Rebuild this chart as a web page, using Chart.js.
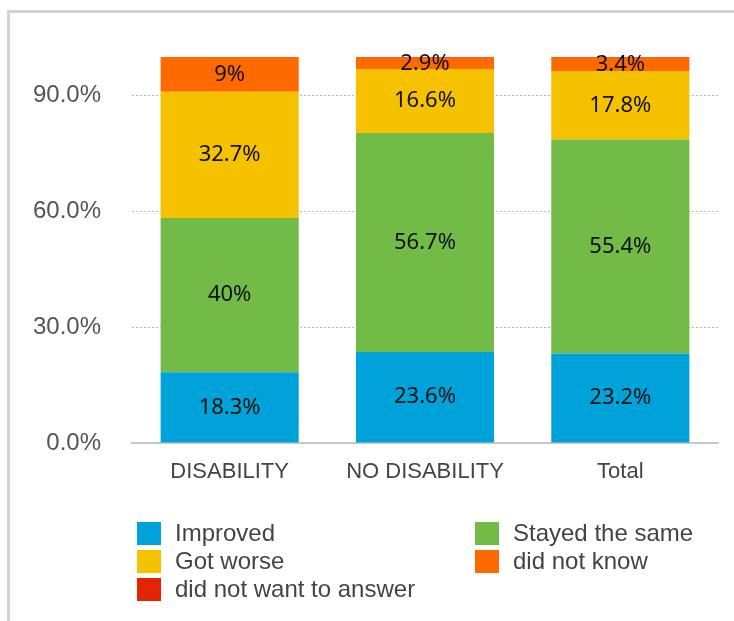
<!DOCTYPE html>
<html>
<head>
<meta charset="utf-8">
<script src="https://cdn.jsdelivr.net/npm/chart.js@4/dist/chart.umd.min.js"></script>
<style>
  body { margin: 0; background: #fff; }
  #wrap { position: relative; width: 734px; height: 621px; overflow: hidden; }
  #frame { position: absolute; left: 7px; top: 10px; width: 760px; height: 640px;
           border-top: 3px solid #d3d3d3; border-left: 3px solid #d3d3d3; }
  #chart { position: absolute; left: 0; top: 0; }
  #legend { position: absolute; left: 137px; top: 519px; display: grid;
            grid-template-columns: 338px auto; grid-auto-rows: 28px;
            font: 24px "Liberation Sans", Arial, sans-serif; color: #444; }
  .item { display: flex; align-items: center; }
  .box { width: 24px; height: 23px; margin-right: 14px; flex: none; }
</style>
</head>
<body>
<div id="wrap">
  <div id="frame"></div>
  <canvas id="chart" width="734" height="621"></canvas>
  <div id="legend"></div>
</div>
<script>
/* survey answers by group, percent */
const categories = ['DISABILITY', 'NO DISABILITY', 'Total'];
const seriesNames = ['Improved', 'Stayed the same', 'Got worse', 'did not know', 'did not want to answer'];
const seriesColors = ['#00a3d9', '#71bb46', '#f6c200', '#ff6a00', '#e32400'];
const improved = [18.3, 23.6, 23.2];
const stayedSame = [40, 56.7, 55.4];
const gotWorse = [32.7, 16.6, 17.8];
const didNotKnow = [9, 2.9, 3.4];
const noAnswer = [0, 0.2, 0.2];
const yTicks = [0, 30, 60, 90];

const seriesValues = [improved, stayedSame, gotWorse, didNotKnow, noAnswer];

// html legend in two columns
const legendDOM = document.getElementById('legend');
legendDOM.innerHTML = seriesNames.map((name, i) =>
  `<div class="item"><span class="box" style="background:${seriesColors[i]}"></span>${name}</div>`
).join('');

// value labels inside each segment
const segmentLabels = {
  id: 'segmentLabels',
  afterDatasetsDraw(chart) {
    const ctx = chart.ctx;
    ctx.save();
    ctx.font = '22px "Noto Sans", sans-serif';
    ctx.fillStyle = '#111';
    ctx.textAlign = 'center';
    ctx.textBaseline = 'middle';
    chart.data.datasets.forEach((ds, di) => {
      const meta = chart.getDatasetMeta(di);
      meta.data.forEach((bar, i) => {
        const v = ds.data[i];
        if (v < 1) return;
        ctx.fillText(v + '%', bar.x, (bar.y + bar.base) / 2);
      });
    });
    ctx.restore();
  }
};

new Chart(document.getElementById('chart'), {
  type: 'bar',
  data: {
    labels: categories,
    datasets: seriesNames.map((name, i) => ({
      label: name,
      data: seriesValues[i],
      backgroundColor: seriesColors[i],
      borderWidth: 0,
      barPercentage: 0.707,
      categoryPercentage: 1
    }))
  },
  options: {
    responsive: false,
    animation: false,
    events: [],
    layout: { padding: { top: 57, right: 16, bottom: 128, left: 0 } },
    plugins: { legend: { display: false }, tooltip: { enabled: false } },
    scales: {
      x: {
        stacked: true,
        grid: { display: false, drawTicks: false },
        border: { display: true, color: '#c8c8c8', width: 2 },
        ticks: { color: '#444', padding: 16, font: { family: 'Liberation Sans', size: 22 } },
        afterFit: s => { s.height = 50; }
      },
      y: {
        stacked: true,
        min: 0,
        max: 100,
        afterBuildTicks: s => { s.ticks = yTicks.map(v => ({ value: v })); },
        afterFit: s => { s.width = 132; },
        grid: {
          drawTicks: false,
          color: c => (c.tick && c.tick.value === 0) ? 'rgba(0,0,0,0)' : '#b8b8b8',
          lineWidth: 1
        },
        border: { display: false, dash: [2, 2] },
        ticks: {
          color: '#555',
          padding: 31,
          font: { family: 'Liberation Sans', size: 24 },
          callback: v => v.toFixed(1) + '%'
        }
      }
    }
  },
  plugins: [segmentLabels]
});
</script>
</body>
</html>
